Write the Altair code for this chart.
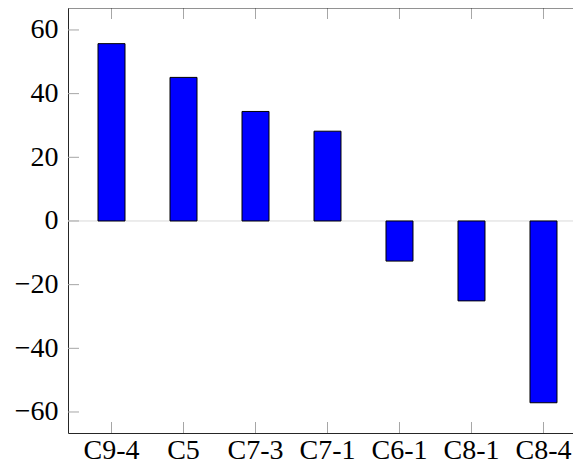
import altair as alt
import pandas as pd

categories = ["C9-4", "C5", "C7-3", "C7-1", "C6-1", "C8-1", "C8-4"]
values = [55.7, 45.1, 34.4, 28.2, -12.6, -25.1, -57.1]
y_ticks = [-60, -40, -20, 0, 20, 40, 60]
zero_line = [0]

W, H = 505, 425
FONT = "Liberation Serif"
FS = 28
FRAME = "#262626"
TICK = "#a6a6a6"

df = pd.DataFrame({"cat": categories, "val": values})
ticks_df = pd.DataFrame({"cat": [categories[0]] * len(y_ticks), "val": y_ticks})
cat_df = pd.DataFrame({"cat": categories, "val": [0] * len(categories)})
zero_df = pd.DataFrame({"cat": [categories[0]], "val": zero_line})

xscale = alt.Scale(paddingInner=0.625, paddingOuter=0.4167, range=[0, 519])
yscale = alt.Scale(domain=[-66.6, 66.9], nice=False, zero=False)

x_axis = alt.Axis(title=None, labelAngle=0, ticks=False, grid=False,
                  domainColor=FRAME, domainWidth=1, labelFont=FONT,
                  labelFontSize=FS, labelColor="black", labelPadding=3)
y_axis = alt.Axis(title=None, ticks=False, grid=False, values=y_ticks,
                  domainColor=FRAME, domainWidth=1, labelFont=FONT,
                  labelFontSize=FS, labelColor="black", labelPadding=10,
                  labelOverlap=False, labelFlush=False)

X = alt.X("cat:N", sort=categories, scale=xscale, axis=x_axis)
Y = alt.Y("val:Q", scale=yscale, axis=y_axis)

zero = alt.Chart(zero_df).mark_rule(color="#d9d9d9", strokeWidth=1).encode(y=Y)

bars = alt.Chart(df).mark_bar(fill="#0000ff", stroke="black", strokeWidth=1).encode(x=X, y=Y)

left_ticks = alt.Chart(ticks_df).mark_rule(color=TICK, strokeWidth=1).encode(
    y=Y, x=alt.value(0), x2=alt.value(11))
right_ticks = alt.Chart(ticks_df).mark_rule(color=TICK, strokeWidth=1).encode(
    y=Y, x=alt.value(507.5), x2=alt.value(519))
bottom_ticks = alt.Chart(cat_df).mark_rule(color=TICK, strokeWidth=1).encode(
    x=X, y=alt.value(H - 11), y2=alt.value(H))
top_ticks = alt.Chart(cat_df).mark_rule(color=TICK, strokeWidth=1).encode(
    x=X, y=alt.value(0), y2=alt.value(11))
top_frame = alt.Chart(zero_df).mark_rule(color=FRAME, strokeWidth=1).encode(
    x=alt.value(0), x2=alt.value(W), y=alt.value(0))

chart = alt.layer(zero, bars, left_ticks, right_ticks, bottom_ticks, top_ticks, top_frame).properties(
    width=W, height=H,
    autosize=alt.AutoSizeParams(type="none"),
    padding={"left": 60, "top": 0, "right": 0, "bottom": 32},
).configure_view(stroke=None)

chart.save("out.html", embed_options={"renderer": "svg", "actions": False})
